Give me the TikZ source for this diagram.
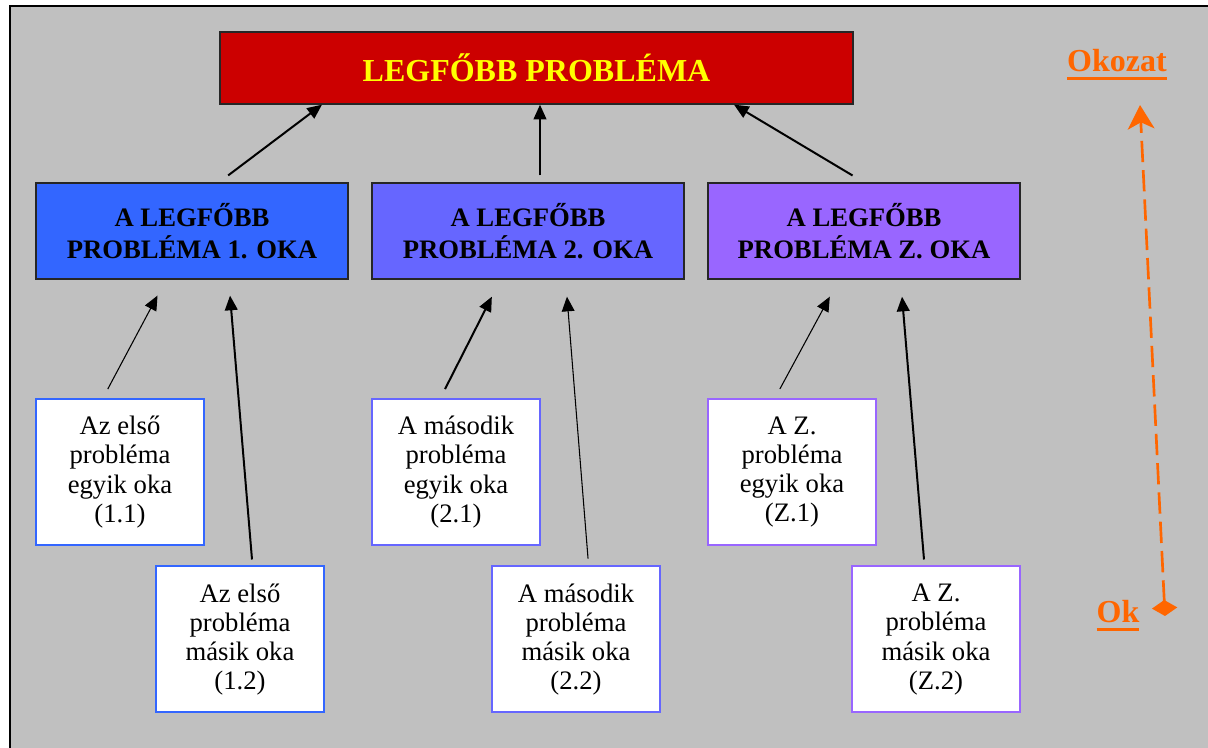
\documentclass[tikz,border=0pt]{standalone}
\usepackage{fontspec}
\setmainfont{Liberation Serif}
\usepackage{tikz}
\usetikzlibrary{arrows.meta}
\usetikzlibrary{positioning,calc}

\definecolor{topred}{HTML}{CC0000}
\definecolor{topyellow}{HTML}{FFFF00}
\definecolor{okablue}{HTML}{3366FF}
\definecolor{okaviolet}{HTML}{6666FF}
\definecolor{okapurple}{HTML}{9966FF}
\definecolor{bggray}{HTML}{C0C0C0}
\definecolor{trendorange}{HTML}{FF6600}

\newcommand{\okline}[1]{\setbox0=\hbox{#1}\rlap{\rule[-6pt]{\wd0}{2.25pt}}\box0}

\begin{document}
\begin{tikzpicture}[x=0.75pt,y=-0.75pt,on grid,
    topbox/.style={draw=black!85,line width=1pt,fill=topred,text=topyellow,
        font=\bfseries\fontsize{24}{28}\selectfont,
        minimum width=474.75pt,minimum height=54pt,inner sep=0pt},
    causebox/.style={draw=black!85,line width=1pt,align=center,
        font=\bfseries\fontsize{20}{24}\selectfont,
        minimum width=234pt,minimum height=72pt,inner sep=0pt},
    subbox/.style={fill=white,line width=1.5pt,align=center,
        font=\fontsize{20}{21.9}\selectfont,
        minimum width=126pt,minimum height=109.5pt,inner sep=0pt},
    tip/.style={-{Triangle[length=11pt,width=9.5pt]}},
    thickarr/.style={tip,line width=1.5pt},
    thinarr/.style={tip,line width=0.8pt},
    trend/.style={{Diamond[length=12pt,width=19pt]}-{Stealth[length=18pt,width=20pt,inset=5pt]},
        draw=trendorange,line width=2pt,dash pattern=on 16pt off 6pt},
    trendlabel/.style={text=trendorange,font=\bfseries\fontsize{24}{28}\selectfont,anchor=base}]
\clip (0,0) rectangle (1208,748);
\fill[white] (0,0) rectangle (1208,748);
\draw[fill=bggray,line width=1.5pt] (10,6) rectangle (1230,770);

% main problem and its causes
\node[topbox] (top) at (536.5,68) {LEGFŐBB PROBLÉMA};
\node[causebox,fill=okaviolet] (c2) at (528,231) {A LEGFŐBB\\PROBLÉMA 2. OKA};
\node[causebox,fill=okablue,left=252pt of c2] (c1) {A LEGFŐBB\\PROBLÉMA 1. OKA};
\node[causebox,fill=okapurple,right=252pt of c2] (c3) {A LEGFŐBB\\PROBLÉMA Z. OKA};

% sub causes
\node[subbox,draw=okablue,below left=180.75pt and 54pt of c1] (s11) {Az első\\probléma\\egyik oka\\(1.1)};
\node[subbox,draw=okablue,below right=125.6pt and 90pt of s11] (s12) {Az első\\probléma\\másik oka\\(1.2)};
\node[subbox,draw=okaviolet,below left=180.75pt and 54pt of c2] (s21) {A második\\probléma\\egyik oka\\(2.1)};
\node[subbox,draw=okaviolet,below right=125.6pt and 90pt of s21] (s22) {A második\\probléma\\másik oka\\(2.2)};
\node[subbox,draw=okapurple,below left=180.75pt and 54pt of c3] (sZ1) {A Z.\\probléma\\egyik oka\\(Z.1)};
\node[subbox,draw=okapurple,below right=125.6pt and 108pt of sZ1] (sZ2) {A Z.\\probléma\\másik oka\\(Z.2)};

\draw[thickarr,shorten <=8.6pt] ($(c1.north)+(27,0)$) -- ($(top.south)+(-214.5,0)$);
\draw[thickarr,shorten <=5.2pt] ($(c2.north)+(12,0)$) -- ($(top.south)+(3.5,0)$);
\draw[thickarr,shorten <=10pt] (c3.north) -- ($(top.south)+(197.5,0)$);

\draw[thinarr,shorten <=7.6pt,shorten >=13.5pt] ($(s11.north)+(-17,0)$) -- ($(c1.south)+(-26,0)$);
\draw[thickarr,shorten <=4.5pt,shorten >=12pt] ($(s12.north)+(12.5,0)$) -- ($(c1.south)+(36.7,0)$);
\draw[thickarr,shorten <=7.5pt,shorten >=14.3pt] ($(s21.north)+(-15.5,0)$) -- ($(c2.south)+(-27.5,0)$);
\draw[thinarr,shorten <=5.2pt,shorten >=12.8pt] ($(s22.north)+(12.6,0)$) -- ($(c2.south)+(37.6,0)$);
\draw[thinarr,shorten <=7.7pt,shorten >=14.5pt] ($(sZ1.north)+(-17,0)$) -- ($(c3.south)+(-25,0)$);
\draw[thickarr,shorten <=4.5pt,shorten >=12.8pt] ($(sZ2.north)+(-11.5,0)$) -- ($(c3.south)+(36.6,0)$);

% cause -> effect
\node[trendlabel] (okozat) at (1117,72) {\okline{Okozat}};
\node[trendlabel] (ok) at (1118,623) {\okline{Ok}};
\coordinate (okpt) at (1165,616);
\coordinate (okozatpt) at (1140,105);
\draw[trend] (okpt) -- (okozatpt);
\end{tikzpicture}
\end{document}
